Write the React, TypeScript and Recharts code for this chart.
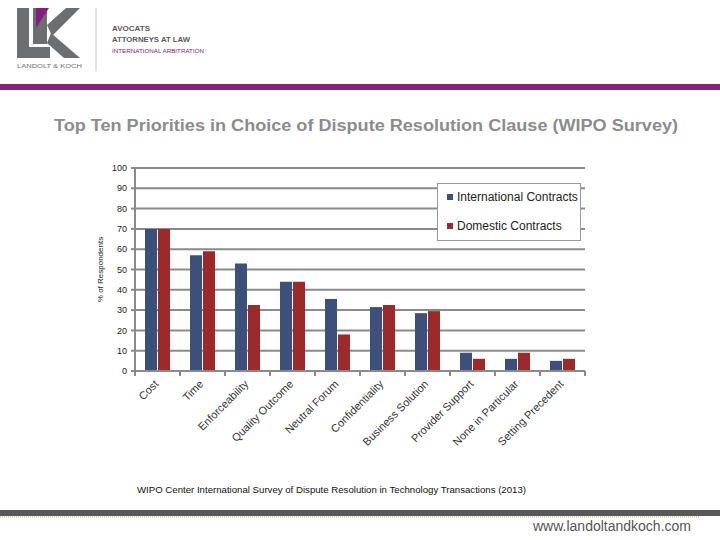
import React from 'react';
import { BarChart, Bar, XAxis, YAxis, CartesianGrid, Legend } from 'recharts';

const categories = [
  'Cost',
  'Time',
  'Enforceability',
  'Quality Outcome',
  'Neutral Forum',
  'Confidentiality',
  'Business Solution',
  'Provider Support',
  'None in Particular',
  'Setting Precedent',
];
const internationalValues = [70, 57, 53, 44, 35.5, 31.5, 28.5, 9, 6, 5];
const domesticValues = [70, 59, 32.5, 44, 18, 32.5, 29.5, 6, 9, 6];
const yTicks = [0, 10, 20, 30, 40, 50, 60, 70, 80, 90, 100];
const seriesNames = ['International Contracts', 'Domestic Contracts'];

const data = categories.map((name, i) => ({
  name,
  intl: internationalValues[i],
  dom: domesticValues[i],
}));

const FONT = "Arial, 'Liberation Sans', Helvetica, sans-serif";
const GRID = '#8a8a8a';
const NAVY = '#3d4f7b';
const RED = '#9c2a2b';
const PURPLE = '#84217f';

const XTick = (props: any) => {
  const { x, y, payload, index } = props;
  const half = 22.5;
  const lx = x - 4;
  const ly = y + 8;
  return (
    <g>
      <line x1={x - half} y1={y} x2={x - half} y2={y + 5} stroke={GRID} strokeWidth={2} />
      {index === categories.length - 1 && (
        <line x1={x + half} y1={y} x2={x + half} y2={y + 5} stroke={GRID} strokeWidth={2} />
      )}
      <text
        x={lx}
        y={ly}
        textAnchor="end"
        dominantBaseline="hanging"
        fontSize={11}
        fontFamily={FONT}
        fill="#333"
        transform={`rotate(-45, ${lx}, ${ly})`}
      >
        {payload.value}
      </text>
    </g>
  );
};

const LegendBox = () => (
  <div
    style={{
      width: 144,
      height: 58,
      boxSizing: 'border-box',
      border: '1px solid #9a9a9a',
      background: '#fff',
      fontFamily: FONT,
      fontSize: 12,
      color: '#222',
      position: 'relative',
    }}
  >
    {seriesNames.map((n, i) => (
      <div
        key={n}
        style={{
          position: 'absolute',
          left: 9,
          top: i === 0 ? 6 : 35,
          display: 'flex',
          alignItems: 'center',
          whiteSpace: 'nowrap',
        }}
      >
        <span
          style={{
            display: 'inline-block',
            width: 6,
            height: 6,
            background: i === 0 ? NAVY : RED,
            marginRight: 4,
          }}
        />
        {n}
      </div>
    ))}
  </div>
);

const Header = () => (
  <svg width={720} height={140} style={{ position: 'absolute', left: 0, top: 0 }}>
    {/* logo */}
    <rect x={17} y={8} width={12} height={50} fill="#6d6e70" />
    <rect x={17} y={47} width={33} height={11} fill="#6d6e70" />
    <polygon points="33,8 47,8 47,44 33,44" fill="#6d6e70" />
    <polygon points="36,8 49,8 36,28" fill={PURPLE} />
    <polygon points="47,25 66,8 80,8 52,36" fill="#6d6e70" />
    <polygon points="51,33 80,58 64,58 47,43" fill="#6d6e70" />
    <text x={17} y={68} fontSize={6.2} fontFamily={FONT} fill="#6d6e70" textLength={65} lengthAdjust="spacingAndGlyphs">
      LANDOLT &amp; KOCH
    </text>
    <line x1={96} y1={8} x2={96} y2={71} stroke="#c8c8c8" strokeWidth={1} />
    <text x={112} y={31} fontSize={7.5} fontWeight="bold" fontFamily={FONT} fill="#5a5a5a" textLength={38} lengthAdjust="spacingAndGlyphs">
      AVOCATS
    </text>
    <text x={112} y={42} fontSize={7.5} fontWeight="bold" fontFamily={FONT} fill="#5a5a5a" textLength={78} lengthAdjust="spacingAndGlyphs">
      ATTORNEYS AT LAW
    </text>
    <text x={112} y={53} fontSize={5.6} fontFamily={FONT} fill={PURPLE} textLength={92} lengthAdjust="spacingAndGlyphs">
      INTERNATIONAL ARBITRATION
    </text>
    <rect x={0} y={84} width={720} height={6} fill={PURPLE} />
    <text
      x={366}
      y={131}
      textAnchor="middle"
      fontSize={16}
      fontWeight="bold"
      fontFamily={FONT}
      fill="#8c8c8c"
      textLength={624}
      lengthAdjust="spacingAndGlyphs"
    >
      Top Ten Priorities in Choice of Dispute Resolution Clause (WIPO Survey)
    </text>
  </svg>
);

const Footer = () => (
  <svg width={720} height={70} style={{ position: 'absolute', left: 0, top: 470 }}>
    <text x={137} y={23} fontSize={9} fontFamily={FONT} fill="#111" textLength={389} lengthAdjust="spacingAndGlyphs">
      WIPO Center International Survey of Dispute Resolution in Technology Transactions (2013)
    </text>
    <rect x={0} y={40} width={720} height={6} fill="#595959" />
    <line x1={0} y1={47} x2={700} y2={47} stroke="#c9a27a" strokeWidth={1} strokeDasharray="1 1" />
    <text x={533} y={61} fontSize={14} fontFamily={FONT} fill="#555" textLength={158} lengthAdjust="spacingAndGlyphs">
      www.landoltandkoch.com
    </text>
  </svg>
);

export default function App() {
  return (
    <div
      style={{
        position: 'absolute',
        left: 0,
        top: 0,
        width: 720,
        height: 540,
        background: '#fff',
        overflow: 'hidden',
        fontFamily: FONT,
      }}
    >
      <Header />
      <div style={{ position: 'absolute', left: 0, top: 0 }}>
        <BarChart
          width={720}
          height={540}
          data={data}
          margin={{ top: 168, right: 135, bottom: 0, left: 105 }}
          barSize={12}
          barGap={1}
        >
          <CartesianGrid horizontal vertical={false} stroke={GRID} strokeWidth={2} />
          <XAxis
            dataKey="name"
            interval={0}
            height={169}
            tickLine={false}
            tickSize={0}
            tickMargin={0}
            axisLine={{ stroke: GRID, strokeWidth: 2 }}
            tick={<XTick />}
          />
          <YAxis
            domain={[0, 100]}
            ticks={yTicks}
            width={30}
            tickSize={4}
            tickMargin={4}
            interval={0}
            axisLine={{ stroke: GRID, strokeWidth: 2 }}
            tickLine={{ stroke: GRID, strokeWidth: 2 }}
            tick={{ fontSize: 9, fontFamily: FONT, fill: '#222' }}
            label={{
              value: '% of Respondents',
              angle: -90,
              position: 'insideLeft',
              offset: 0,
              dx: -5,
              style: { fontSize: 8, fontFamily: FONT, fill: '#222', textAnchor: 'middle' },
            }}
          />
          <Legend
            layout="vertical"
            align="center"
            verticalAlign="middle"
            content={<LegendBox />}
            wrapperStyle={{ position: 'absolute', left: 437, top: 183, width: 144, height: 58 }}
          />
          <Bar dataKey="intl" name={seriesNames[0]} fill={NAVY} isAnimationActive={false} />
          <Bar dataKey="dom" name={seriesNames[1]} fill={RED} isAnimationActive={false} />
        </BarChart>
      </div>
      <Footer />
    </div>
  );
}
